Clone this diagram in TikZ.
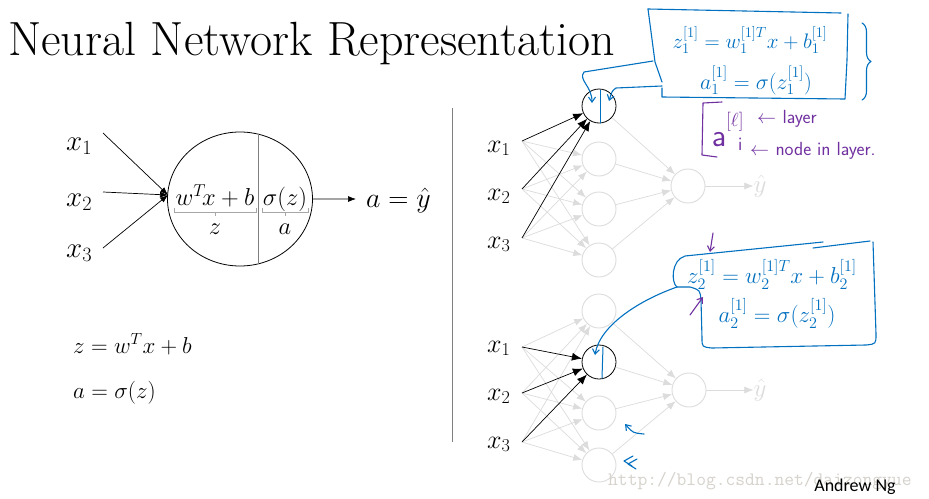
\RequirePackage{fix-cm}
\documentclass[tikz,border=0pt]{standalone}
\usepackage{amsmath}
\usepackage{fontspec}
\usetikzlibrary{arrows.meta,decorations.pathreplacing,calc,shapes.geometric}
\newfontfamily\carl{Carlito}
\definecolor{hblue}{RGB}{0,112,192}
\definecolor{hpurple}{RGB}{112,48,160}
\definecolor{lgray}{RGB}{220,220,220}
\definecolor{wm}{RGB}{214,210,204}
\begin{document}
\begin{tikzpicture}[x=1pt,y=-1pt,
  biglab/.style={inner sep=0pt, anchor=base west, font=\fontsize{29}{29}\selectfont},
  lab/.style={inner sep=0pt, anchor=base west, font=\fontsize{26}{26}\selectfont},
  mid/.style={inner sep=0pt, anchor=base, font=\fontsize{24.5}{24.5}\selectfont},
  neuron/.style={circle, draw=lgray, line width=0.9pt, minimum size=34pt, inner sep=0pt},
  hot/.style={neuron, draw=black, line width=0.8pt},
  garr/.style={draw=lgray, line width=0.7pt, -{Latex[length=9pt,width=7pt]}},
  barr/.style={draw=black, line width=0.7pt, -{Latex[length=10pt,width=8pt]}},
  karr/.style={draw=black, line width=0.7pt, -{Latex[length=8pt,width=6pt]}},
  ink/.style={draw=hblue, line width=1.1pt, line cap=round, line join=round},
  pink/.style={draw=hpurple, line width=1.1pt, line cap=round, line join=round},
  barb/.style={-{Straight Barb[length=5pt,width=7pt]}},
  heq/.style={text=hblue, inner sep=0pt, anchor=base, font=\fontsize{23}{23}\selectfont},
  peq/.style={text=hpurple, inner sep=0pt, anchor=base west, font=\sffamily\fontsize{19}{19}\selectfont},
  brk/.style={draw=gray!70, line width=0.6pt},
]
\useasboundingbox (0,0) rectangle (929,498);
\fill[white] (0,0) rectangle (929,498);

% title
\node[anchor=base west, inner sep=0pt, font=\fontsize{48}{48}\selectfont] (title) at (8,55) {Neural Network Representation};

% ---------- left single neuron ----------
\node[biglab] (lx1) at (66,150) {$x_1$};
\node[biglab] (lx2) at (66,206) {$x_2$};
\node[biglab] (lx3) at (66,257) {$x_3$};
\coordinate (la1) at (103,133);
\coordinate (la2) at (103,192);
\coordinate (la3) at (103,248);
\coordinate (ltip) at (168,195);
\node[draw, ellipse, minimum width=145pt, minimum height=134pt, inner sep=0pt, line width=0.8pt] (neuron) at (240,199) {};
\draw[gray, line width=1pt] (258,134) -- (258,264);
\foreach \i in {1,2,3} \draw[karr] (la\i) -- (ltip);
\node[mid] (lin) at (215,205) {$w^T\!x+b$};
\node[mid] (lsig) at (285,205) {$\sigma(z)$};
\draw[brk] (174,208) -- (174,212) -- (256,212) -- (256,208) (215,212) -- (215,216);
\draw[brk] (262,208) -- (262,212) -- (308,212) -- (308,208) (285,212) -- (285,216);
\node[mid] (lz) at (215,234) {$z$};
\node[mid] (la) at (285,234) {$a$};
\node[lab, font=\fontsize{28}{28}\selectfont] (lout) at (366,207) {$a=\hat{y}$};
\draw[karr] (neuron.east) -- ($(lout.west)+(-10,-1)$);

\node[anchor=base west, inner sep=0pt, font=\fontsize{23}{23}\selectfont] (eqz) at (73,353) {$z=w^Tx+b$};
\node[anchor=base west, inner sep=0pt, font=\fontsize{23}{23}\selectfont] (eqa) at (73,398) {$a=\sigma(z)$};

% separator
\draw[gray, line width=1pt] (452,108) -- (452,442);

% ---------- top network ----------
\node[lab] (tx1) at (487,152) {$x_1$};
\node[lab] (tx2) at (487,200) {$x_2$};
\node[lab] (tx3) at (487,248) {$x_3$};
\coordinate (ti1) at (522,141);
\coordinate (ti2) at (522,189);
\coordinate (ti3) at (522,238);
\node[hot] (th1) at (599,106) {};
\node[neuron] (th2) at (599,159) {};
\node[neuron] (th3) at (599,209) {};
\node[neuron] (th4) at (599,260) {};
\node[neuron] (to) at (688,186) {};
\node[inner sep=0pt, text=lgray, font=\fontsize{25}{25}\selectfont] (ty) at (760,186) {$\hat{y}$};
\foreach \i in {1,2,3} \foreach \h in {2,3,4} \draw[garr] (ti\i) -- (th\h);
\foreach \h in {1,2,3,4} \draw[garr] (th\h) -- (to);
\draw[garr] (to) -- (ty);
\foreach \i in {1,2,3} \draw[barr] (ti\i) -- (th1);

% ---------- bottom network ----------
\node[lab] (bx1) at (487,352) {$x_1$};
\node[lab] (bx2) at (487,400) {$x_2$};
\node[lab] (bx3) at (487,448) {$x_3$};
\coordinate (bi1) at (522,347);
\coordinate (bi2) at (522,393);
\coordinate (bi3) at (522,442);
\node[neuron] (bh1) at (599,311) {};
\node[hot] (bh2) at (599,362) {};
\node[neuron] (bh3) at (599,413) {};
\node[neuron] (bh4) at (599,465) {};
\node[neuron] (bo) at (689,390) {};
\node[inner sep=0pt, text=lgray, font=\fontsize{25}{25}\selectfont] (by) at (760,390) {$\hat{y}$};
\foreach \i in {1,2,3} \foreach \h in {1,3,4} \draw[garr] (bi\i) -- (bh\h);
\foreach \h in {1,2,3,4} \draw[garr] (bh\h) -- (bo);
\draw[garr] (bo) -- (by);
\foreach \i in {1,2,3} \draw[barr] (bi\i) -- (bh2);

% ---------- watermark & credit ----------
\node[anchor=base west, inner sep=0pt, text=wm, font=\ttfamily\fontsize{19}{19}\selectfont] (wmark) at (608,485) {http://blog.csdn.net/daizongyue};
\node[anchor=base, inner sep=0pt, font=\carl\fontsize{18}{18}\selectfont] (credit) at (855,491) {Andrew Ng};

% ---------- blue annotations top ----------
\draw[ink, line width=1pt] (600,90) -- (600,123);
\draw[ink] (648,9) -- (841,13);
\draw[ink] (848,14) -- (847,60) -- (845,99) -- (662,97) -- (662,88);
\draw[ink] (662,82) -- (655,62) -- (648,9);
\coordinate (ta1) at (653,61);
\coordinate (ta2) at (662,86);
\draw[ink, barb] (ta1) -- (584,72) .. controls (578,80) and (592,86) .. (592,103);
\draw[ink, barb] (ta2) -- (616,88) .. controls (612,91) .. (609,101);
\node[heq, font=\fontsize{21}{21}\selectfont] (teq1) at (750,48) {$z_1^{[1]}=w_1^{[1]T}x+b_1^{[1]}$};
\node[heq, font=\fontsize{22}{22}\selectfont] (teq2) at (756,89) {$a_1^{[1]}=\sigma(z_1^{[1]})$};
\draw[ink, decorate, decoration={brace, amplitude=9pt}] (862,23) -- (862,100);

% purple notation
\draw[pink] (722,102) -- (703,103) -- (702,155) -- (717,157);
\node[anchor=base, inner sep=0pt, text=hpurple, font=\sffamily\fontsize{32}{32}\selectfont] (pa) at (719,146) {a};
\node[anchor=base west, inner sep=0pt, text=hpurple, font=\fontsize{19}{19}\selectfont] (pl) at (726,126) {$[\ell]$};
\node[peq] (pi) at (738,150) {i};
\node[peq] (play) at (757,123) {$\leftarrow$\,\,layer};
\node[peq] (pnode) at (750,155) {$\leftarrow$\,\,node in layer.};

% ---------- blue annotations bottom ----------
\coordinate (bj) at (677,287);
\draw[ink] (bj) .. controls (671,283) and (671,260) .. (685,256) -- (823,242);
\draw[ink] (813,248) -- (870,241);
\draw[ink] (873,242) -- (876,334) .. controls (876,344) .. (866,345) -- (712,348) .. controls (702,347) .. (702,338) -- (701,300) .. controls (700,290) .. (690,287) -- (bj);
\draw[ink, barb] (bj) .. controls (640,300) and (600,325) .. (595,355);
\draw[ink, line width=1pt] (603,347) -- (602,378);
\node[heq] (beq1) at (772,283) {$z_2^{[1]}=w_2^{[1]T}x+b_2^{[1]}$};
\node[heq] (beq2) at (777,322) {$a_2^{[1]}=\sigma(z_2^{[1]})$};
\draw[pink, barb] (713,233) -- (710,252);
\draw[pink, barb] (690,315) -- (703,297);

% small blue marks
\draw[ink, barb] (644,434) .. controls (633,433) .. (625,424);
\draw[ink] (633,456) -- (624,461) -- (632,466);
\draw[ink] (637,459) -- (628,464) -- (636,469);
\end{tikzpicture}
\end{document}
